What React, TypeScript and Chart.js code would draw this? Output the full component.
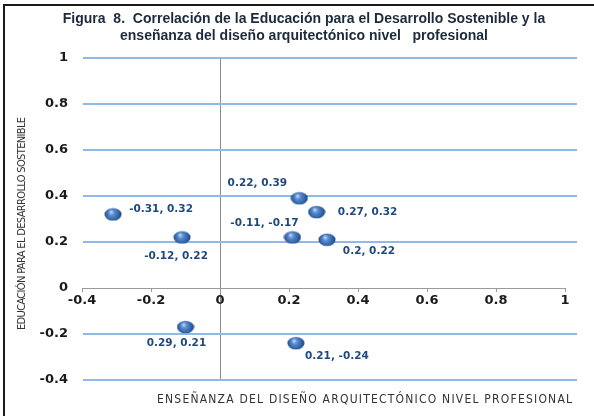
import React, { useEffect, useRef } from "react";
import { Chart, registerables } from "chart.js";

Chart.register(...registerables);

const titleLines = [
  "Figura  8.  Correlación de la Educación para el Desarrollo Sostenible y la",
  "enseñanza del diseño arquitectónico nivel   profesional",
];
const xAxisTitle = "ENSEÑANZA DEL DISEÑO ARQUITECTÓNICO NIVEL PROFESIONAL";
const yAxisTitle = "EDUCACIÓN PARA EL DESARROLLO SOSTENIBLE";

const xValues = [-0.31, -0.11, 0.23, 0.28, 0.21, 0.31, -0.1, 0.22];
const yValues = [0.32, 0.22, 0.39, 0.33, 0.22, 0.21, -0.17, -0.24];
const pointLabels = [
  "-0.31, 0.32",
  "-0.12, 0.22",
  "0.22, 0.39",
  "0.27, 0.32",
  "-0.11, -0.17",
  "0.2, 0.22",
  "0.29, 0.21",
  "0.21, -0.24",
];
const labelOffsets = [
  [48, -5],
  [-6, 19],
  [-42, -15],
  [51, 0],
  [-28, -14],
  [42, 12],
  [-9, 16],
  [41, 13],
];

const xMin = -0.4;
const xMax = 1;
const yMin = -0.4;
const yMax = 1;
const step = 0.2;

function fmt(v: number) {
  const r = Math.round(v * 10) / 10;
  return r === 0 ? "0" : String(r);
}

function makeSphere() {
  const c = document.createElement("canvas");
  c.width = 18;
  c.height = 14;
  const ctx = c.getContext("2d")!;
  const g = ctx.createRadialGradient(7, 4.5, 0.5, 9, 7, 9);
  g.addColorStop(0, "#B9D1F0");
  g.addColorStop(0.28, "#5A8BCD");
  g.addColorStop(0.7, "#2F62A8");
  g.addColorStop(1, "#173C6E");
  ctx.fillStyle = g;
  ctx.beginPath();
  ctx.ellipse(9, 7, 8.5, 6.3, 0, 0, Math.PI * 2);
  ctx.fill();
  return c;
}

function spacedText(ctx: CanvasRenderingContext2D, text: string, x: number, y: number, width: number) {
  (ctx as any).letterSpacing = "0px";
  const w = ctx.measureText(text).width;
  const sp = (width - w) / (text.length - 1);
  (ctx as any).letterSpacing = sp + "px";
  ctx.textAlign = "left";
  ctx.fillText(text, x, y);
  (ctx as any).letterSpacing = "0px";
}

const decorPlugin = {
  id: "decor",
  beforeDatasetsDraw(chart: any) {
    const { ctx, chartArea, scales } = chart;
    const ys = scales.y;
    ctx.save();
    ctx.strokeStyle = "#8FB9E6";
    ctx.lineWidth = 2;
    ys.ticks.forEach((t: any) => {
      if (Math.abs(t.value) < 1e-9) return;
      const py = Math.round(ys.getPixelForValue(t.value));
      ctx.beginPath();
      ctx.moveTo(chartArea.left + 1, py);
      ctx.lineTo(chartArea.right + 12, py);
      ctx.stroke();
    });
    ctx.restore();
  },
  afterDatasetsDraw(chart: any) {
    const { ctx } = chart;
    const meta = chart.getDatasetMeta(0);
    ctx.save();
    ctx.font = "bold 10.5px 'DejaVu Sans'";
    ctx.fillStyle = "#1F497D";
    ctx.textAlign = "center";
    ctx.textBaseline = "middle";
    meta.data.forEach((el: any, i: number) => {
      const [dx, dy] = labelOffsets[i];
      ctx.fillText(pointLabels[i], el.x + dx, el.y + dy);
    });
    ctx.restore();
  },
  afterDraw(chart: any) {
    const { ctx } = chart;
    ctx.save();
    // frame
    ctx.strokeStyle = "#1a1a1a";
    ctx.lineWidth = 2;
    ctx.beginPath();
    ctx.moveTo(3, 5);
    ctx.lineTo(594, 5);
    ctx.moveTo(4, 4);
    ctx.lineTo(4, 416);
    ctx.stroke();
    // title
    ctx.fillStyle = "#1C2A3C";
    ctx.font = "bold 14px 'Liberation Sans'";
    ctx.textAlign = "center";
    ctx.textBaseline = "middle";
    ctx.fillText(titleLines[0], 304, 19);
    ctx.fillText(titleLines[1], 304, 36);
    // x title
    ctx.fillStyle = "#333333";
    ctx.font = "12px 'Liberation Sans Narrow', 'DejaVu Sans Condensed', sans-serif";
    ctx.textBaseline = "middle";
    spacedText(ctx, xAxisTitle, 157, 400, 415);
    // y title
    ctx.translate(22, 224);
    ctx.rotate(-Math.PI / 2);
    ctx.font = "11px 'Liberation Sans Narrow', 'DejaVu Sans Condensed', sans-serif";
    spacedText(ctx, yAxisTitle, -106, 0, 213);
    ctx.restore();
  },
};

export default function App() {
  const ref = useRef<HTMLCanvasElement>(null);
  useEffect(() => {
    const canvas = ref.current!;
    const sphere = makeSphere();
    const chart = new Chart(canvas, {
      type: "scatter",
      data: {
        datasets: [
          {
            data: xValues.map((x, i) => ({ x, y: yValues[i] })),
            pointStyle: sphere as any,
            pointRadius: 8,
            pointHoverRadius: 8,
          },
        ],
      },
      options: {
        responsive: false,
        animation: false,
        devicePixelRatio: 1,
        layout: { padding: { left: 0, right: 29, top: 58, bottom: 36 } },
        plugins: { legend: { display: false }, tooltip: { enabled: false }, title: { display: false } },
        scales: {
          x: {
            type: "linear",
            min: xMin,
            max: xMax,
            position: { y: 0 } as any,
            ticks: {
              stepSize: step,
              color: "#1a1a1a",
              font: { family: "'DejaVu Sans'", size: 13, weight: "bold" },
              padding: 2,
              callback: (v: any) => fmt(Number(v)),
            },
            grid: {
              display: true,
              drawOnChartArea: true,
              drawTicks: true,
              tickLength: 3,
              tickColor: "#9a9a9a",
              color: (c: any) => (c.tick && Math.abs(c.tick.value) < 1e-9 ? "#8a8a8a" : "rgba(0,0,0,0)"),
              lineWidth: 1,
            },
            border: { display: true, color: "#9a9a9a", width: 1 },
          },
          y: {
            type: "linear",
            min: yMin,
            max: yMax,
            position: "left",
            afterFit: (s: any) => {
              s.width = 82;
            },
            ticks: {
              stepSize: step,
              color: "#1a1a1a",
              font: { family: "'DejaVu Sans'", size: 13, weight: "bold" },
              padding: 14,
              callback: (v: any) => fmt(Number(v)),
            },
            grid: { display: false, drawTicks: false },
            border: { display: false },
          },
        },
      },
      plugins: [decorPlugin],
    });
    return () => chart.destroy();
  }, []);
  return (
    <div style={{ position: "fixed", left: 0, top: 0, width: 594, height: 416, background: "#fff" }}>
      <canvas ref={ref} width={594} height={416} style={{ display: "block" }} />
    </div>
  );
}
